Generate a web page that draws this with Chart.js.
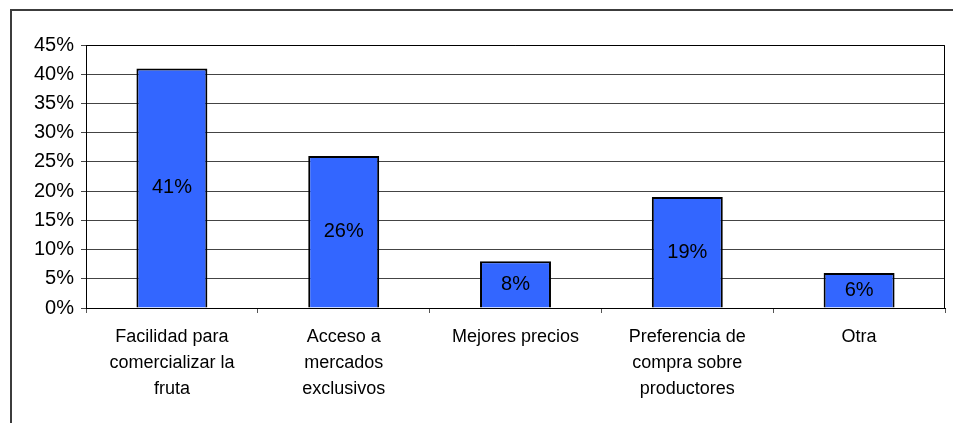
<!DOCTYPE html>
<html>
<head>
<meta charset="utf-8">
<script src="https://cdn.jsdelivr.net/npm/chart.js@4.4.1/dist/chart.umd.min.js"></script>
<style>
  html, body { margin: 0; padding: 0; background: #fff; }
  #wrap { position: relative; width: 953px; height: 423px; overflow: hidden; }
  #frame { position: absolute; left: 10px; top: 9px; width: 960px; height: 500px; border: 2px solid #3c3c3c; box-sizing: border-box; }
  #chart { position: absolute; left: 0; top: 0; }
</style>
</head>
<body>
<div id="wrap">
  <div id="frame"></div>
  <canvas id="chart" width="953" height="423"></canvas>
</div>
<script>
// Datos
const categorias = [
  ['Facilidad para', 'comercializar la', 'fruta'],
  ['Acceso a', 'mercados', 'exclusivos'],
  'Mejores precios',
  ['Preferencia de', 'compra sobre', 'productores'],
  'Otra'
];
const valores = [41, 26, 8, 19, 6];
const ejeMax = 45;
const ejePaso = 5;

const fuente = { family: 'Liberation Sans, Arial, sans-serif', size: 18 };
const fuenteNum = { family: 'Liberation Sans, Arial, sans-serif', size: 20 };

// Marco del área de trazado y etiquetas dentro de las barras
const etiquetasPlugin = {
  id: 'etiquetas',
  afterDatasetsDraw(chart) {
    const ctx = chart.ctx;
    const area = chart.chartArea;
    ctx.save();
    ctx.strokeStyle = '#000';
    ctx.lineWidth = 1;
    ctx.beginPath();
    ctx.moveTo(area.left, area.top + 0.5);
    ctx.lineTo(area.right - 0.5, area.top + 0.5);
    ctx.lineTo(area.right - 0.5, area.bottom);
    ctx.stroke();

    ctx.fillStyle = '#000';
    ctx.font = fuenteNum.size + 'px ' + fuenteNum.family;
    ctx.textAlign = 'center';
    ctx.textBaseline = 'middle';
    const meta = chart.getDatasetMeta(0);
    meta.data.forEach((bar, i) => {
      const y = (bar.y + bar.base) / 2;
      ctx.fillText(valores[i] + '%', bar.x, y);
    });
    ctx.restore();
  }
};

const ctx = document.getElementById('chart').getContext('2d');
new Chart(ctx, {
  type: 'bar',
  data: {
    labels: categorias,
    datasets: [{
      data: valores,
      backgroundColor: '#3366FF',
      borderColor: '#000',
      borderWidth: 2,
      borderSkipped: 'bottom',
      categoryPercentage: 1,
      barPercentage: 0.413
    }]
  },
  options: {
    responsive: false,
    animation: false,
    layout: { padding: { top: 45, right: 8, left: 0, bottom: 0 } },
    plugins: {
      legend: { display: false },
      tooltip: { enabled: false }
    },
    scales: {
      x: {
        afterFit(scale) { scale.height = 115; },
        grid: {
          offset: true,
          drawOnChartArea: false,
          drawTicks: true,
          tickLength: 5,
          color: '#555'
        },
        border: { color: '#000', width: 1 },
        ticks: {
          color: '#000',
          font: { ...fuente, lineHeight: 1.45 },
          padding: 11,
          maxRotation: 0,
          autoSkip: false
        }
      },
      y: {
        min: 0,
        max: ejeMax,
        afterFit(scale) { scale.width = 86; },
        grid: {
          color: '#444',
          lineWidth: 1,
          tickLength: 5
        },
        border: { color: '#000', width: 1 },
        ticks: {
          stepSize: ejePaso,
          color: '#000',
          font: fuenteNum,
          padding: 7,
          callback: v => v + '%'
        }
      }
    }
  },
  plugins: [etiquetasPlugin]
});
</script>
</body>
</html>
